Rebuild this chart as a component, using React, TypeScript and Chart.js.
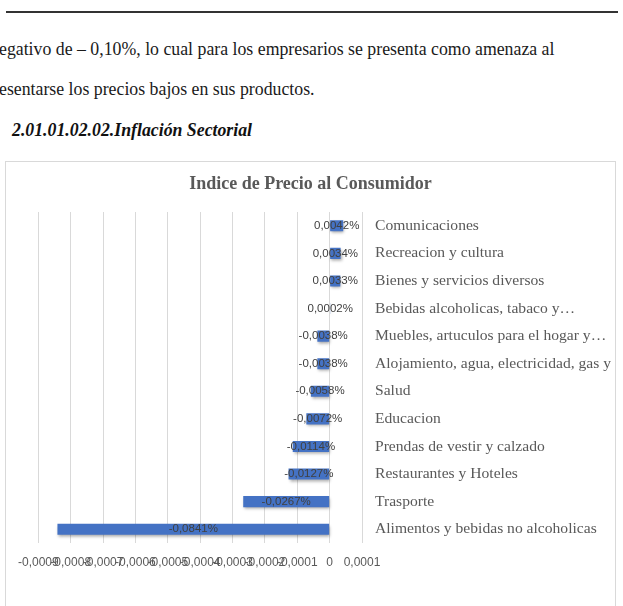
import React, { useEffect, useRef } from "react";
import { Chart, registerables } from "chart.js";

Chart.register(...registerables);

const categories = [
  "Comunicaciones",
  "Recreacion y cultura",
  "Bienes y servicios diversos",
  "Bebidas alcoholicas, tabaco y…",
  "Muebles, artuculos para el hogar y…",
  "Alojamiento, agua, electricidad, gas y",
  "Salud",
  "Educacion",
  "Prendas de vestir y calzado",
  "Restaurantes y Hoteles",
  "Trasporte",
  "Alimentos y bebidas no alcoholicas",
];

const values = [
  0.000042, 0.000034, 0.000033, 0.000002, -0.000038, -0.000038, -0.000058,
  -0.000072, -0.000114, -0.000127, -0.000267, -0.000841,
];

const xMin = -0.0009;
const xMax = 0.0001;
const xStep = 0.0001;

const chartTitle = "Indice de Precio al Consumidor";

const fmtTick = (v: number) =>
  Math.abs(v) < 1e-12 ? "0" : v.toFixed(4).replace(".", ",");
const fmtLabel = (v: number) => (v * 100).toFixed(4).replace(".", ",") + "%";

const barEffects = {
  id: "barEffects",
  beforeDatasetsDraw(chart: any) {
    const ctx = chart.ctx;
    ctx.save();
    ctx.shadowColor = "rgba(0,0,0,0.35)";
    ctx.shadowBlur = 3;
    ctx.shadowOffsetX = 1;
    ctx.shadowOffsetY = 2;
  },
  afterDatasetsDraw(chart: any) {
    const ctx = chart.ctx;
    ctx.restore();
    ctx.save();
    ctx.font = "11.5px 'Liberation Sans', Arial, sans-serif";
    ctx.fillStyle = "#404040";
    ctx.textAlign = "center";
    ctx.textBaseline = "middle";
    const meta = chart.getDatasetMeta(0);
    meta.data.forEach((el: any, i: number) => {
      const v = chart.data.datasets[0].data[i] as number;
      const cx = (el.x + el.base) / 2;
      ctx.fillText(fmtLabel(v), cx, el.y);
    });
    ctx.restore();
  },
  afterDraw(chart: any) {
    const ctx = chart.ctx;
    ctx.save();
    ctx.font = "bold 18px 'Liberation Serif', 'Times New Roman', serif";
    ctx.fillStyle = "#595959";
    ctx.textAlign = "center";
    ctx.textBaseline = "middle";
    ctx.fillText(chartTitle, chart.width / 2, 22);
    ctx.restore();
  },
};

function IPCChart() {
  const ref = useRef<HTMLCanvasElement>(null);
  useEffect(() => {
    if (!ref.current) return;
    const chart = new Chart(ref.current, {
      type: "bar",
      data: {
        labels: categories,
        datasets: [
          {
            data: values,
            backgroundColor: "#4472C4",
            borderWidth: 0,
            barPercentage: 0.4,
            categoryPercentage: 1,
          },
        ],
      },
      options: {
        indexAxis: "y",
        animation: false,
        responsive: false,
        maintainAspectRatio: false,
        layout: { padding: { left: 29, right: 0, top: 50, bottom: 33 } },
        plugins: {
          legend: { display: false },
          tooltip: { enabled: false },
          title: { display: false },
        },
        scales: {
          x: {
            type: "linear",
            min: xMin,
            max: xMax,
            grid: { color: "#d9d9d9", lineWidth: 1, drawTicks: false },
            border: { display: false },
            ticks: {
              stepSize: xStep,
              autoSkip: false,
              maxRotation: 0,
              minRotation: 0,
              padding: 12,
              color: "#595959",
              font: { family: "'Liberation Sans', Arial, sans-serif", size: 12 },
              callback: (v: any) => fmtTick(Number(v)),
            },
            afterFit: (s: any) => {
              s.height = 30;
            },
          },
          y: {
            position: "right",
            grid: { display: false, drawTicks: false },
            border: { display: false },
            ticks: {
              autoSkip: false,
              padding: 13,
              color: "#595959",
              font: { family: "'Liberation Serif', 'Times New Roman', serif", size: 15.6 },
            },
            afterFit: (s: any) => {
              s.width = 253;
            },
          },
        },
      },
      plugins: [barEffects],
    });
    return () => chart.destroy();
  }, []);
  return (
    <canvas
      ref={ref}
      width={609}
      height={444}
      style={{ position: "absolute", left: 0, top: 0, width: 609, height: 444 }}
    />
  );
}

export default function App() {
  const textStyle: React.CSSProperties = {
    position: "absolute",
    fontFamily: "'Liberation Serif', 'Times New Roman', serif",
    fontSize: 17.8,
    lineHeight: "20px",
    color: "#1a1a1a",
    whiteSpace: "nowrap",
  };
  return (
    <div
      style={{
        position: "absolute",
        left: 0,
        top: 0,
        width: 623,
        height: 606,
        overflow: "hidden",
        background: "#fff",
      }}
    >
      <div
        style={{
          position: "absolute",
          left: 6,
          top: 11,
          width: 612,
          height: 2,
          background: "#333",
        }}
      />
      <div style={{ ...textStyle, left: -1, top: 39 }}>
        egativo de – 0,10%, lo cual para los empresarios se presenta como amenaza al
      </div>
      <div style={{ ...textStyle, left: -1, top: 79 }}>
        esentarse los precios bajos en sus productos.
      </div>
      <div
        style={{
          ...textStyle,
          left: 12,
          top: 120,
          fontWeight: "bold",
          fontStyle: "italic",
          color: "#111",
        }}
      >
        2.01.01.02.02.Inflación Sectorial
      </div>
      <div
        style={{
          position: "absolute",
          left: 5,
          top: 161,
          width: 611,
          height: 460,
          border: "1px solid #d9d9d9",
          boxSizing: "border-box",
        }}
      >
        <IPCChart />
      </div>
    </div>
  );
}
